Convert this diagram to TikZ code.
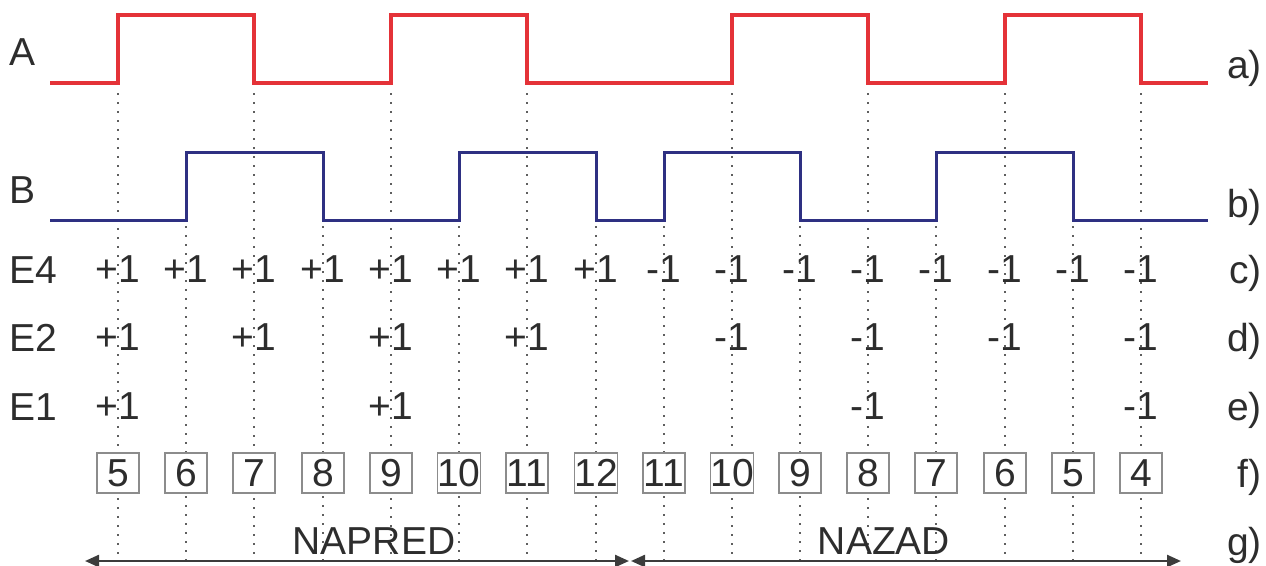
\documentclass[tikz,border=0pt]{standalone}
\usepackage{fontspec}
\setmainfont{Liberation Sans}
\usetikzlibrary{arrows.meta,calc}
\definecolor{sigred}{RGB}{228,50,56}
\definecolor{sigblue}{RGB}{46,48,130}
\definecolor{txt}{RGB}{45,45,45}
\definecolor{guidegray}{RGB}{95,95,95}
\definecolor{boxgray}{RGB}{140,140,140}
\definecolor{arrgray}{RGB}{60,60,60}
\begin{document}
\begin{tikzpicture}[x=1pt,y=-1pt,
  lbl/.style={text=txt,font=\fontsize{39}{40}\selectfont,inner sep=0pt},
  rowlbl/.style={lbl,anchor=base west},
  sidelbl/.style={lbl,anchor=base east},
  numbox/.style={lbl,draw=boxgray,fill=white,line width=1.1pt,minimum width=42pt,minimum height=40pt},
  guide/.style={guidegray,line width=1.5pt,dash pattern=on 1.5pt off 7.5pt},
  sigA/.style={sigred,line width=3.4pt,line join=miter},
  sigB/.style={sigblue,line width=3pt,line join=miter},
  dirarrow/.style={arrgray,line width=2.4pt,{Triangle[length=14pt,width=12pt]}-{Triangle[length=14pt,width=12pt]}}
]
\useasboundingbox (0,0) rectangle (1266,565);

% column positions
\foreach \x [count=\i] in {118,186,254,323,391,459,527,596,664,732,800,868,936,1005,1073,1141}{
  \coordinate (c\i) at (\x,0);
}

% guide lines (A transitions start below A, B transitions below B)
\foreach \i in {1,3,5,7,10,12,14,16}{
  \coordinate (gt\i) at ($(c\i)+(0,93)$);
  \coordinate (gb\i) at ($(c\i)+(0,562)$);
  \draw[guide] (gt\i) -- (gb\i);
}
\foreach \i in {2,4,6,8,9,11,13,15}{
  \coordinate (gt\i) at ($(c\i)+(0,226)$);
  \coordinate (gb\i) at ($(c\i)+(0,562)$);
  \draw[guide] (gt\i) -- (gb\i);
}

% signal A
\draw[sigA] (50,83) -- (118,83) -- (118,15) -- (254,15) -- (254,83) -- (391,83) -- (391,15)
  -- (527,15) -- (527,83) -- (732,83) -- (732,15) -- (868,15) -- (868,83) -- (1005,83)
  -- (1005,15) -- (1141,15) -- (1141,83) -- (1208,83);
% signal B
\draw[sigB] (50,220) -- (186,220) -- (186,152) -- (323,152) -- (323,220) -- (459,220) -- (459,152)
  -- (596,152) -- (596,220) -- (664,220) -- (664,152) -- (800,152) -- (800,220) -- (936,220)
  -- (936,152) -- (1073,152) -- (1073,220) -- (1208,220);

% left labels
\node[rowlbl] (lA) at (9,65) {A};
\node[rowlbl] (lB) at (9,203) {B};
\node[rowlbl] (lE4) at (9,283) {E4};
\node[rowlbl] (lE2) at (9,351) {E2};
\node[rowlbl] (lE1) at (9,420) {E1};

% right labels
\node[sidelbl] (ra) at (1262,78) {a)};
\node[sidelbl] (rb) at (1262,217) {b)};
\node[sidelbl] (rc) at (1262,283) {c)};
\node[sidelbl] (rd) at (1262,351) {d)};
\node[sidelbl] (re) at (1262,420) {e)};
\node[sidelbl] (rf) at (1262,487) {f)};
\node[sidelbl] (rg) at (1262,555) {g)};

% E4 row
\foreach \i in {1,...,8}{ \node[lbl] (e4n\i) at ($(c\i)+(0,269)$) {+1}; }
\foreach \i in {9,...,16}{ \node[lbl] (e4n\i) at ($(c\i)+(0,269)$) {-1}; }
% E2 row
\foreach \i in {1,3,5,7}{ \node[lbl] (e2n\i) at ($(c\i)+(0,337)$) {+1}; }
\foreach \i in {10,12,14,16}{ \node[lbl] (e2n\i) at ($(c\i)+(0,337)$) {-1}; }
% E1 row
\foreach \i in {1,5}{ \node[lbl] (e1n\i) at ($(c\i)+(0,406)$) {+1}; }
\foreach \i in {12,16}{ \node[lbl] (e1n\i) at ($(c\i)+(0,406)$) {-1}; }

% count boxes
\foreach \v [count=\i] in {5,6,7,8,9,10,11,12,11,10,9,8,7,6,5,4}{
  \node[numbox] (bx\i) at ($(c\i)+(0,473)$) {\v};
}

% direction arrows
\coordinate (napL) at (85,561);
\coordinate (napR) at (629,561);
\coordinate (nazL) at (631,561);
\coordinate (nazR) at (1181,561);
\draw[dirarrow] (napL) -- (napR);
\draw[dirarrow] (nazL) -- (nazR);
\node[lbl] (tnap) at (374,541) {NAPRED};
\node[lbl] (tnaz) at (884,541) {NAZAD};
\end{tikzpicture}
\end{document}
